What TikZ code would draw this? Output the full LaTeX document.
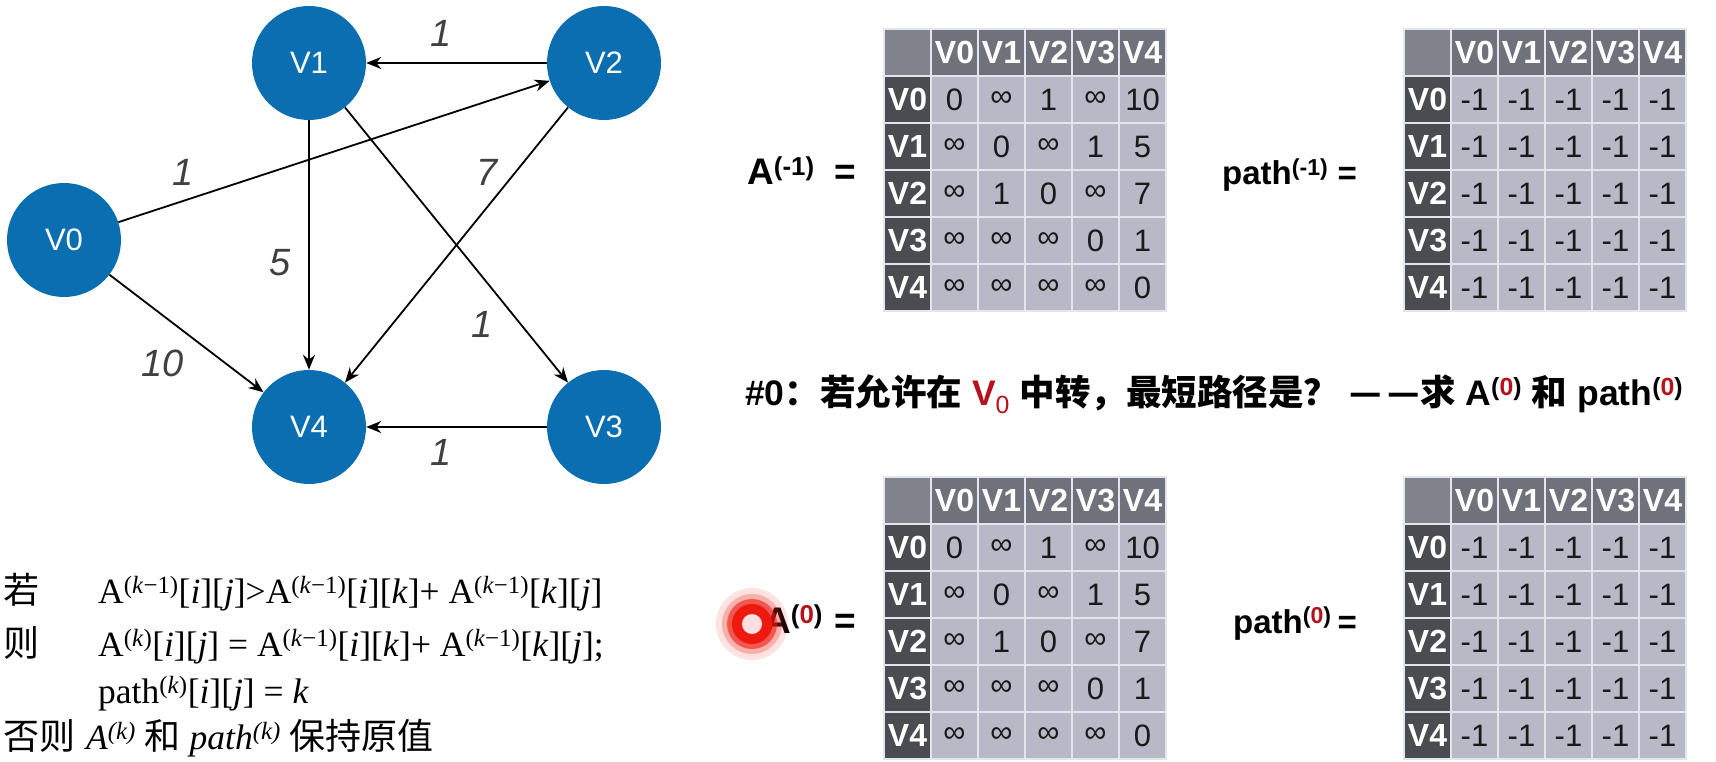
\documentclass[tikz,border=0pt]{standalone}
\usepackage{fontspec}
\setmainfont{Liberation Sans}
\newfontfamily\cjk{Noto Sans CJK SC}
\newfontfamily\tms{Liberation Serif}
\usetikzlibrary{arrows.meta}
\definecolor{nodeblue}{HTML}{0A6EB0}
\definecolor{headc}{HTML}{6F727A}
\definecolor{cornerc}{HTML}{80838B}
\definecolor{leftc}{HTML}{4B4C51}
\definecolor{bodyc}{HTML}{B9B8C6}
\definecolor{gridc}{HTML}{E4E4EC}
\definecolor{dred}{HTML}{B5121B}
\definecolor{dotred}{HTML}{EE1A10}
\newcommand\fs[1]{\fontsize{#1}{#1}\selectfont}
\tikzset{
  vtx/.style={circle, fill=nodeblue, minimum size=114pt, inner sep=0pt, text=white, font=\fs{31}},
  edge/.style={line width=1.8pt, -{Stealth[length=15pt,width=12pt]}},
  wlab/.style={font=\fs{38}\itshape, text=black!75, inner sep=0pt},
  cell/.style={minimum width=47pt, minimum height=47pt, inner sep=0pt, draw=gridc, line width=1.5pt, fill=bodyc, text=black!90, font=\fs{31}},
  hcell/.style={cell, fill=headc, text=white, font=\bfseries\fs{32}},
  lcell/.style={cell, fill=leftc, text=white, font=\bfseries\fs{32}},
  lbl/.style={font=\bfseries\fs{37}, inner sep=0pt},
  plbl/.style={font=\bfseries\fs{33}, inner sep=0pt},
  frm/.style={font=\tms\fs{35.5}, inner sep=0pt},
  cjkl/.style={font=\cjk\fs{36}, inner sep=0pt}
}
\newcommand\drawmat[4]{%
  \begin{scope}[shift={(#1,#2)}]
    \node[cell, fill=cornerc] (#3-0-0) at (23.5,23.5) {};
    \foreach \c in {1,...,5} {
      \pgfmathtruncatemacro\lab{\c-1}
      \node[hcell] (#3-0-\c) at (23.5+47*\c,23.5) {V\lab};
    }
    \foreach \vals [count=\r] in {#4} {
      \pgfmathtruncatemacro\lab{\r-1}
      \node[lcell] (#3-\r-0) at (23.5,23.5+47*\r) {V\lab};
      \foreach \v [count=\c] in \vals {
        \node[cell] (#3-\r-\c) at (23.5+47*\c,23.5+47*\r) {\v};
      }
    }
  \end{scope}
}
\begin{document}
\begin{tikzpicture}[x=1pt,y=-1pt]
\useasboundingbox (0,0) rectangle (1716,762);
\fill[white] (0,0) rectangle (1716,762);

% graph
\node[vtx] (V0) at (64,240) {V0};
\node[vtx] (V1) at (309,63) {V1};
\node[vtx] (V2) at (604,63) {V2};
\node[vtx] (V3) at (604,427) {V3};
\node[vtx] (V4) at (309,427) {V4};
\draw[edge] (V2) -- (V1);
\draw[edge] (V0) -- (V2);
\draw[edge] (V1) -- (V4);
\draw[edge] (V1) -- (V3);
\draw[edge] (V2) -- (V4);
\draw[edge] (V0) -- (V4);
\draw[edge] (V3) -- (V4);
\node[wlab] (w21) at (441,33) {1};
\node[wlab] (w02) at (183,172) {1};
\node[wlab] (w24) at (487,172) {7};
\node[wlab] (w14) at (280,263) {5};
\node[wlab] (w13) at (482,324) {1};
\node[wlab] (w04) at (163,363) {10};
\node[wlab] (w34) at (441,452) {1};

% formulas bottom-left
\node[cjkl, anchor=base west] (ruo) at (3,603) {若};
\node[frm, anchor=base west] (f1) at (98,603) {A\textsuperscript{(\textit{k}−1)}[\textit{i}][\textit{j}]>A\textsuperscript{(\textit{k}−1)}[\textit{i}][\textit{k}]+ A\textsuperscript{(\textit{k}−1)}[\textit{k}][\textit{j}]};
\node[cjkl, anchor=base west] (ze) at (3,656) {则};
\node[frm, anchor=base west] (f2) at (98,656) {A\textsuperscript{(\textit{k})}[\textit{i}][\textit{j}] = A\textsuperscript{(\textit{k}−1)}[\textit{i}][\textit{k}]+ A\textsuperscript{(\textit{k}−1)}[\textit{k}][\textit{j}];};
\node[frm, anchor=base west] (f3) at (98,703) {path\textsuperscript{(\textit{k})}[\textit{i}][\textit{j}] = \textit{k}};
\node[cjkl, anchor=base west] (fouze) at (3,749) {否则};
\node[frm, anchor=base west] (f4) at (86,749) {\itshape A\textsuperscript{(k)} {\cjk\upshape\fs{36}和} path\textsuperscript{(k)} {\cjk\upshape\fs{36}保持原值}};

% matrices
\drawmat{884}{29}{ta}{{0,∞,1,∞,10},{∞,0,∞,1,5},{∞,1,0,∞,7},{∞,∞,∞,0,1},{∞,∞,∞,∞,0}}
\drawmat{1404}{29}{tp}{{-1,-1,-1,-1,-1},{-1,-1,-1,-1,-1},{-1,-1,-1,-1,-1},{-1,-1,-1,-1,-1},{-1,-1,-1,-1,-1}}
\drawmat{884}{477}{tb}{{0,∞,1,∞,10},{∞,0,∞,1,5},{∞,1,0,∞,7},{∞,∞,∞,0,1},{∞,∞,∞,∞,0}}
\drawmat{1404}{477}{tq}{{-1,-1,-1,-1,-1},{-1,-1,-1,-1,-1},{-1,-1,-1,-1,-1},{-1,-1,-1,-1,-1},{-1,-1,-1,-1,-1}}

% matrix labels
\node[lbl, anchor=base west] (la) at (747,185) {A\textsuperscript{(-1)}};
\node[lbl, anchor=base east] (lae) at (856,185) {=};
\node[plbl, anchor=base west] (lp) at (1222,185) {path\textsuperscript{(-1)}};
\node[plbl, anchor=base east] (lpe) at (1357,185) {=};
\node[lbl, anchor=base west] (lb) at (764,633) {A\textsuperscript{(\textcolor{dred}{0})}};
\node[lbl, anchor=base east] (lbe) at (856,633) {=};
\node[plbl, anchor=base west] (lq) at (1233,633) {path\textsuperscript{(\textcolor{dred}{0})}};
\node[plbl, anchor=base east] (lqe) at (1357,633) {=};

% middle line
\node[anchor=base west, inner sep=0pt, font=\bfseries\fs{35.5}] (q) at (745,405) {\#0{\cjk：若允许在} {\color{dred}V{\mdseries\textsubscript{0}}} {\cjk 中转，最短路径是？} {\cjk —}\hspace{6pt}{\cjk —求} A\textsuperscript{(\textcolor{dred}{0})} {\cjk 和} path\textsuperscript{(\textcolor{dred}{0})}};

% cursor highlight
\fill[dotred, opacity=0.12] (752,624) circle (36);
\fill[dotred, opacity=0.25] (752,624) circle (30);
\fill[dotred, opacity=0.6] (752,624) circle (25);
\fill[dotred] (752,624) circle (20);
\fill[red!12!white] (752,624) circle (10);
\end{tikzpicture}
\end{document}
